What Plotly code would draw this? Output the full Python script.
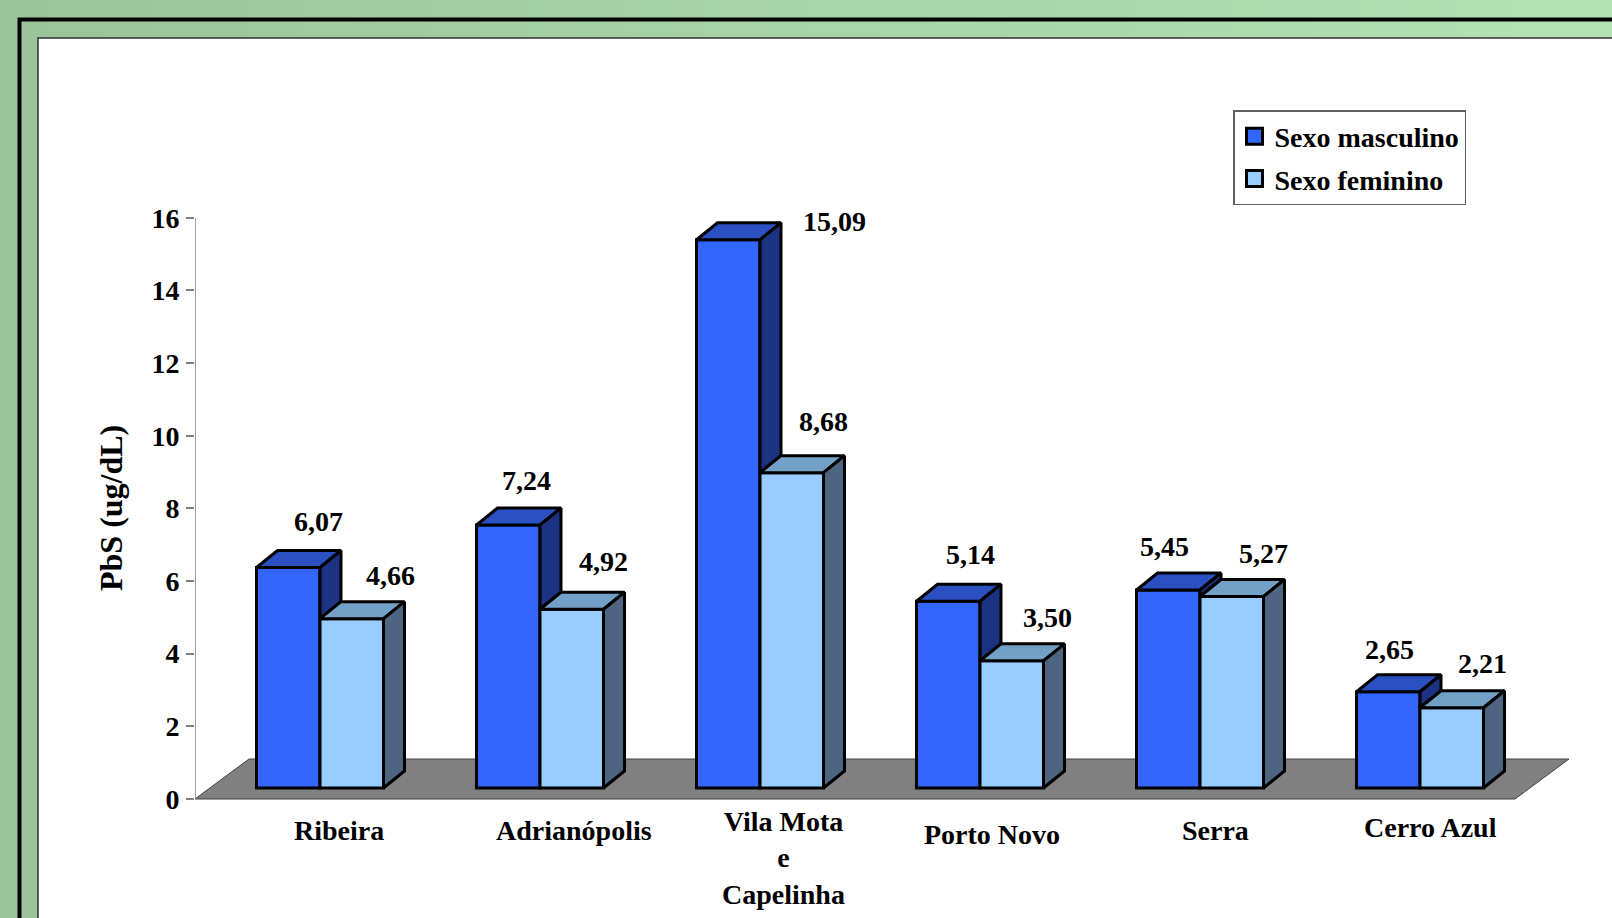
import plotly.graph_objects as go

# ---- data -------------------------------------------------------------
categories = ["Ribeira", "Adrianópolis", "Vila Mota<br>e<br>Capelinha",
              "Porto Novo", "Serra", "Cerro Azul"]
masculino = [6.07, 7.24, 15.09, 5.14, 5.45, 2.65]
feminino = [4.66, 4.92, 8.68, 3.50, 5.27, 2.21]
series_names = ["Sexo masculino", "Sexo feminino"]
y_ticks = [0, 2, 4, 6, 8, 10, 12, 14, 16]
y_title = "PbS (ug/dL)"

# ---- page geometry (pixels) -----------------------------------------------
W, H = 1612, 918
ML, MR, MT, MB = 195, 32, 60, 113
PW, PH = W - ML - MR, H - MT - MB
CAT_PX = 220.0          # pixels per category along x
UNIT_PX = 36.33         # pixels per unit of PbS along y
ZERO_GAP = 6            # pixels between y=0 and the bottom of the plot area
X_RANGE = [-0.5, -0.5 + PW / CAT_PX]
Y_RANGE = [-ZERO_GAP / UNIT_PX, (PH - ZERO_GAP) / UNIT_PX]


def ux(px):
    return px / CAT_PX


def uy(px):
    return px / UNIT_PX


def xp(px):
    return (px - ML) / PW


def yp(py):
    return (H - MB - py) / PH


# 3-D look
FLOOR_DEPTH = (54, 40)  # px offset of the floor's back edge
BAR_DEPTH = (21, 17)    # px offset of a bar's back face
BAR_W = 63.5            # px width of one bar
BAR_LIFT = 11           # px the bars stand above the floor's front edge
BAR_SHIFT = 15          # px the bars sit to the right of the category centre

FONT = "Liberation Serif"
COL_M = dict(front="#3366ff", top="#2a50c2", side="#1b3382")
COL_F = dict(front="#99ccff", top="#72a0c6", side="#4e6582")

n = len(categories)
idx = list(range(n))
base = uy(BAR_LIFT)
bw = ux(BAR_W)
ddx, ddy = ux(BAR_DEPTH[0]), uy(BAR_DEPTH[1])
m_left = [i - bw + ux(BAR_SHIFT) for i in idx]
f_left = [i + ux(BAR_SHIFT) for i in idx]


def top_faces(lefts, values):
    xs, ys = [], []
    for xl, v in zip(lefts, values):
        yt = base + v
        xr = xl + bw
        xs += [xl, xr, xr + ddx, xl + ddx, xl, None]
        ys += [yt, yt, yt + ddy, yt + ddy, yt, None]
    return xs, ys


def side_faces(lefts, values, bottoms):
    xs, ys = [], []
    for xl, v, b in zip(lefts, values, bottoms):
        yt = base + v
        if yt <= b:
            continue
        xr = xl + bw
        xs += [xr, xr, xr + ddx, xr + ddx, xr, None]
        ys += [b, yt, yt + ddy, b + ddy, b, None]
    return xs, ys


fig = go.Figure()

# front faces
for lefts, vals, col, name in [(m_left, masculino, COL_M, series_names[0]),
                               (f_left, feminino, COL_F, series_names[1])]:
    fig.add_trace(go.Bar(
        x=idx, y=vals, base=base, width=bw,
        offset=lefts[0] - idx[0],
        marker=dict(color=col["front"], line=dict(color="black", width=3)),
        name=name, showlegend=False, hoverinfo="skip"))

# top and side faces; the male side is only visible above the female bar
f_tops = [base + v for v in feminino]
faces = [
    (top_faces(m_left, masculino), COL_M["top"]),
    (side_faces(m_left, masculino, f_tops), COL_M["side"]),
    (top_faces(f_left, feminino), COL_F["top"]),
    (side_faces(f_left, feminino, [base] * n), COL_F["side"]),
]
for (xs, ys), col in faces:
    fig.add_trace(go.Scatter(
        x=xs, y=ys, mode="lines", fill="toself", fillcolor=col,
        line=dict(color="black", width=3), showlegend=False,
        hoverinfo="skip"))

# legend entries
for name, col, grp in [(series_names[0], COL_M["front"], "m"),
                       (series_names[1], COL_F["front"], "f")]:
    fig.add_trace(go.Scatter(
        x=[None], y=[None], mode="markers", name=name, legendgroup=grp,
        marker=dict(symbol="square", size=16, color=col,
                    line=dict(color="black", width=3))))

# ---- background, frame, floor and value axis ------------------------------
shapes = []
c0, c1 = (156, 196, 156), (181, 225, 181)
steps = 64
for k in range(steps):
    t = k / (steps - 1)
    col = "rgb({},{},{})".format(*[round(a + (b - a) * t) for a, b in zip(c0, c1)])
    shapes.append(dict(type="rect", xref="paper", yref="paper", layer="below",
                       x0=xp(W * k / steps - 1), x1=xp(W * (k + 1) / steps + 1),
                       y0=yp(H + 5), y1=yp(-5), fillcolor=col, line=dict(width=0)))
shapes.append(dict(type="rect", xref="paper", yref="paper", layer="below",
                   x0=xp(19.5), x1=xp(W + 60), y0=yp(H + 60), y1=yp(19.5),
                   line=dict(color="black", width=4)))
shapes.append(dict(type="rect", xref="paper", yref="paper", layer="below",
                   x0=xp(38), x1=xp(W + 60), y0=yp(H + 60), y1=yp(38),
                   fillcolor="white", line=dict(color="#303030", width=1.5)))

fx, fy = ux(FLOOR_DEPTH[0]), uy(FLOOR_DEPTH[1])
xa, xb = -0.5, n - 0.5
shapes.append(dict(type="path", xref="x", yref="y", layer="below",
                   path=f"M{xa},0 L{xb},0 L{xb + fx},{fy} L{xa + fx},{fy} Z",
                   fillcolor="#808080", line=dict(color="#404040", width=1)))
shapes.append(dict(type="line", xref="x", yref="y", layer="below",
                   x0=xa, x1=xa, y0=y_ticks[0], y1=y_ticks[-1],
                   line=dict(color="#808080", width=1.5)))

# ---- text -----------------------------------------------------------------
annotations = []
label_font = dict(family=FONT, size=28, color="black", weight="bold")


def fmt(v):
    return f"{v:.2f}".replace(".", ",")


m_off = [(30, 46), (18, 44), (106, 18), (22, 47), (-4, 44), (1, 42)]
f_off = [(39, 43), (32, 48), (32, 51), (36, 43), (32, 43), (31, 44)]
for lefts, vals, offs in [(m_left, masculino, m_off), (f_left, feminino, f_off)]:
    for xl, v, (sx, sy) in zip(lefts, vals, offs):
        annotations.append(dict(
            x=xl + bw / 2, y=base + v, xref="x", yref="y", text=fmt(v),
            showarrow=False, xanchor="center", yanchor="middle",
            xshift=sx, yshift=sy, font=label_font))

cat_off = [(34, 31), (49, 31), (38, 59), (27, 35), (30, 31), (25, 28)]
for i, (name, (sx, sy)) in enumerate(zip(categories, cat_off)):
    annotations.append(dict(
        x=i, y=0, xref="x", yref="y", text=name, showarrow=False,
        xanchor="center", yanchor="middle", xshift=sx, yshift=-sy,
        font=label_font))

annotations.append(dict(
    x=xp(111), y=yp(508), xref="paper", yref="paper", text=y_title,
    showarrow=False, textangle=-90, xanchor="center", yanchor="middle",
    font=dict(family=FONT, size=32, color="black", weight="bold")))

fig.update_layout(
    width=W, height=H,
    margin=dict(l=ML, r=MR, t=MT, b=MB),
    paper_bgcolor="rgb(168,210,168)",
    plot_bgcolor="rgba(0,0,0,0)",
    barmode="overlay",
    shapes=shapes,
    annotations=annotations,
    showlegend=True,
    legend=dict(x=xp(1233), y=yp(110), xanchor="left", yanchor="top",
                bgcolor="white", bordercolor="#606060", borderwidth=1.5,
                font=dict(family=FONT, size=28, color="black", weight="bold"),
                itemsizing="trace", tracegroupgap=3),
    xaxis=dict(range=X_RANGE, visible=False, fixedrange=True),
    yaxis=dict(range=Y_RANGE, tickvals=y_ticks,
               ticktext=[str(t) for t in y_ticks],
               ticks="outside", ticklen=8, tickwidth=1.5, tickcolor="#808080",
               showgrid=False, zeroline=False, showline=False,
               ticklabelstandoff=1,
               tickfont=dict(family=FONT, size=28, color="black", weight="bold"),
               fixedrange=True),
)

fig.write_html("out.html")
